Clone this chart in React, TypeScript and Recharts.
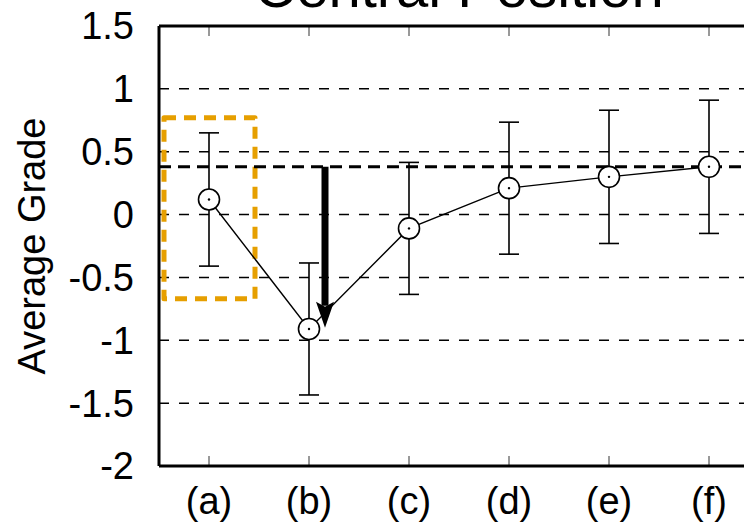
import React from "react";
import {
  ComposedChart,
  Line,
  XAxis,
  YAxis,
  CartesianGrid,
  ErrorBar,
  ReferenceLine,
  ReferenceArea,
} from "recharts";

const categories = ["(a)", "(b)", "(c)", "(d)", "(e)", "(f)"];
const means = [0.12, -0.91, -0.11, 0.21, 0.3, 0.38];
const errs = [0.53, 0.525, 0.525, 0.525, 0.53, 0.53];
const yTicks = [-2, -1.5, -1, -0.5, 0, 0.5, 1, 1.5];
const gridTicks = [-1.5, -1, -0.5, 0, 0.5, 1];
const xTicks = [1, 2, 3, 4, 5, 6];
const yTop = 1.5;
const baselineValue = 0.38;
const arrowX = 2.16;
const arrowTo = -0.9;
const boxX = [0.55, 1.46];
const boxY = [-0.67, 0.77];
const titleText = "Central Position";
const yLabel = "Average Grade";

const data = categories.map((c, i) => ({
  x: i + 1,
  label: c,
  mean: means[i],
  err: errs[i],
}));

const FONT = "'Liberation Sans', Arial, Helvetica, sans-serif";

const Dot = (props: any) => {
  const { cx, cy } = props;
  if (cx == null || cy == null) return null;
  return (
    <g>
      <circle cx={cx} cy={cy} r={10.5} fill="#fff" stroke="#000" strokeWidth={1.6} />
      <circle cx={cx} cy={cy} r={1.2} fill="#000" />
    </g>
  );
};

const Arrow = (p: any) => {
  const { x1, y1, x2, y2 } = p;
  if ([x1, y1, x2, y2].some((v) => v == null || isNaN(v))) return null;
  const headLen = 26;
  const headHalf = 9;
  return (
    <g>
      <line x1={x1} y1={y1} x2={x2} y2={y2 - headLen + 4} stroke="#000" strokeWidth={7} />
      <polygon
        points={`${x2},${y2} ${x2 - headHalf},${y2 - headLen} ${x2},${y2 - headLen + 5} ${x2 + headHalf},${y2 - headLen}`}
        fill="#000"
      />
    </g>
  );
};

// inward tick marks at both ends of a vertical reference line
const InTicks = (p: any) => {
  const { x1, y1, x2, y2 } = p;
  if ([x1, y1, x2, y2].some((v) => v == null || isNaN(v))) return null;
  const top = Math.min(y1, y2);
  const bot = Math.max(y1, y2);
  return (
    <g>
      <line x1={x1} y1={top} x2={x1} y2={top + 10} stroke="#777" strokeWidth={1.5} />
      <line x1={x1} y1={bot} x2={x1} y2={bot - 10} stroke="#777" strokeWidth={1.5} />
    </g>
  );
};

export default function App() {
  return (
    <div
      style={{
        position: "fixed",
        left: 0,
        top: 0,
        width: 744,
        height: 527,
        overflow: "hidden",
        background: "#fff",
      }}
    >
      <div style={{ position: "absolute", left: 0, top: -60 }}>
        <ComposedChart
          width={800}
          height={600}
          data={data}
          margin={{ top: 86, right: 41, bottom: 14, left: 0 }}
          style={{ fontFamily: FONT }}
        >
          <CartesianGrid
            vertical={false}
            horizontalValues={gridTicks}
            stroke="#000"
            strokeWidth={1.5}
            strokeDasharray="10 10"
          />
          <XAxis
            dataKey="x"
            type="number"
            domain={[0.5, 6.5]}
            ticks={xTicks}
            tickFormatter={(v: number) => categories[v - 1] ?? ""}
            allowDataOverflow
            height={60}
            tickLine={false}
            tickSize={0}
            tickMargin={21}
            axisLine={{ stroke: "#000", strokeWidth: 3 }}
            tick={{ fill: "#000", fontSize: 38, fontFamily: FONT }}
            interval={0}
          />
          <YAxis
            type="number"
            domain={[-2, 1.5]}
            ticks={yTicks}
            allowDataOverflow
            width={159}
            tickLine={false}
            tickSize={0}
            tickMargin={25}
            axisLine={{ stroke: "#000", strokeWidth: 3 }}
            tick={{ fill: "#000", fontSize: 38, fontFamily: FONT }}
            interval={0}
          />
          {xTicks.map((t) => (
            <ReferenceLine key={t} x={t} shape={(p: any) => <InTicks {...p} />} />
          ))}
          <ReferenceLine y={yTop} stroke="#000" strokeWidth={3} />
          <ReferenceLine
            y={baselineValue}
            stroke="#000"
            strokeWidth={3}
            strokeDasharray="12 7"
          />
          <ReferenceArea
            x1={boxX[0]}
            x2={boxX[1]}
            y1={boxY[0]}
            y2={boxY[1]}
            fill="none"
            fillOpacity={0}
            stroke="#E69F00"
            strokeWidth={5}
            strokeDasharray="12 8"
            strokeLinejoin="round"
          />
          <Line
            dataKey="mean"
            stroke="#000"
            strokeWidth={1.4}
            dot={<Dot />}
            activeDot={false}
            isAnimationActive={false}
          >
            <ErrorBar
              dataKey="err"
              width={10}
              stroke="#000"
              strokeWidth={1.6}
              direction="y"
              isAnimationActive={false}
            />
          </Line>
          <ReferenceLine
            segment={[
              { x: arrowX, y: baselineValue },
              { x: arrowX, y: arrowTo },
            ]}
            shape={(p: any) => <Arrow {...p} />}
          />
        </ComposedChart>
      </div>
      <svg
        width={744}
        height={527}
        style={{ position: "absolute", left: 0, top: 0, pointerEvents: "none" }}
      >
        <text
          x={459}
          y={7}
          textAnchor="middle"
          fontSize={58}
          fontFamily={FONT}
          fill="#000"
        >
          {titleText}
        </text>
        <text
          transform="translate(45,246) rotate(-90)"
          textAnchor="middle"
          fontSize={38}
          fontFamily={FONT}
          fill="#000"
        >
          {yLabel}
        </text>
      </svg>
    </div>
  );
}
